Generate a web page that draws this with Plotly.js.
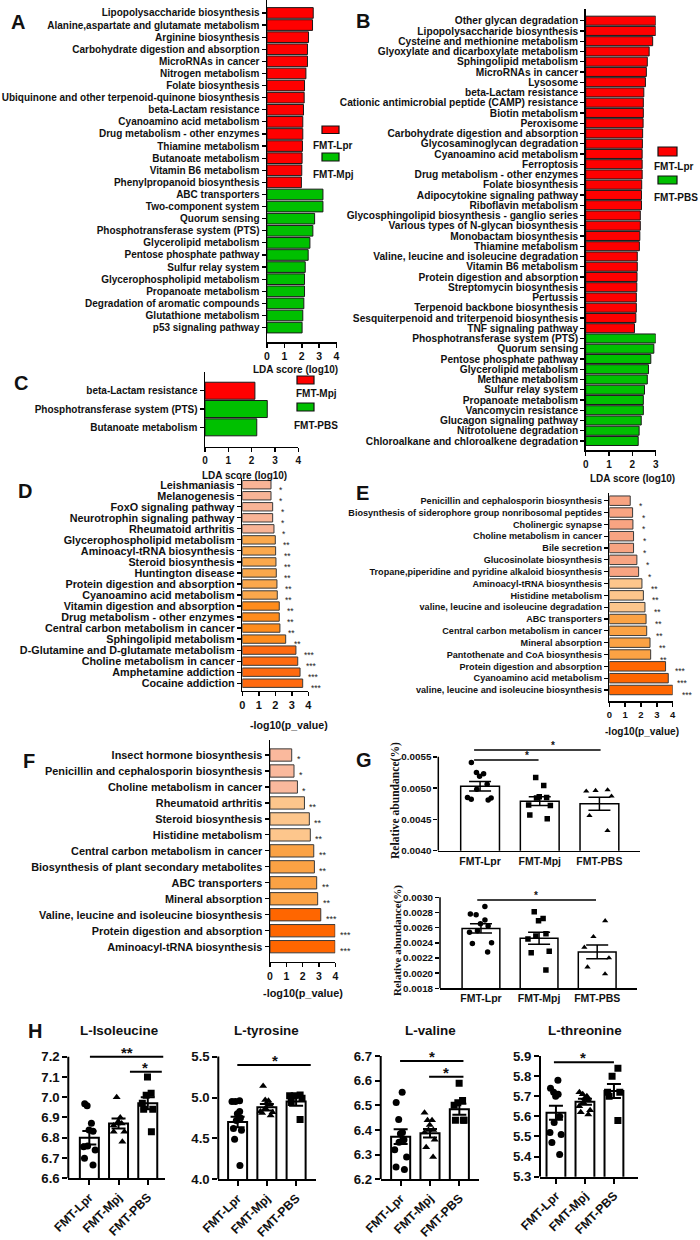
<!DOCTYPE html>
<html>
<head>
<meta charset="utf-8">
<script src="https://cdn.plot.ly/plotly-3.0.1.min.js"></script>
<style>
html,body{margin:0;padding:0;background:#ffffff;}
#chart{width:700px;height:1240px;}
</style>
</head>
<body>
<div id="chart"></div>
<script>
// ===================== DATA =====================
// Panel A : LDA score (log10)
const catA_Lpr = ['Lipopolysaccharide biosynthesis','Alanine,aspartate and glutamate metabolism','Arginine biosynthesis','Carbohydrate digestion and absorption','MicroRNAs in cancer','Nitrogen metabolism','Folate biosynthesis','Ubiquinone and other terpenoid-quinone biosynthesis','beta-Lactam resistance','Cyanoamino acid metabolism','Drug metabolism - other enzymes','Thiamine metabolism','Butanoate metabolism','Vitamin B6 metabolism','Phenylpropanoid biosynthesis'];
const valA_Lpr = [2.66,2.62,2.39,2.33,2.33,2.24,2.16,2.14,2.10,2.06,2.06,2.04,2.02,2.00,1.98];
const catA_Mpj = ['ABC transporters','Two-component system','Quorum sensing','Phosphotransferase system (PTS)','Glycerolipid metabolism','Pentose phosphate pathway','Sulfur relay system','Glycerophospholipid metabolism','Propanoate metabolism','Degradation of aromatic compounds','Glutathione metabolism','p53 signaling pathway'];
const valA_Mpj = [3.22,3.22,2.74,2.64,2.47,2.37,2.20,2.16,2.16,2.12,2.06,2.02];

// Panel B : LDA score (log10)
const catB_Lpr = ['Other glycan degradation','Lipopolysaccharide biosynthesis','Cysteine and methionine metabolism','Glyoxylate and dicarboxylate metabolism','Sphingolipid metabolism','MicroRNAs in cancer','Lysosome','beta-Lactam resistance','Cationic antimicrobial peptide (CAMP) resistance','Biotin metabolism','Peroxisome','Carbohydrate digestion and absorption','Glycosaminoglycan degradation','Cyanoamino acid metabolism','Ferroptosis','Drug metabolism - other enzymes','Folate biosynthesis','Adipocytokine signaling pathway','Riboflavin metabolism','Glycosphingolipid biosynthesis - ganglio series','Various types of N-glycan biosynthesis','Monobactam biosynthesis','Thiamine metabolism','Valine, leucine and isoleucine degradation','Vitamin B6 metabolism','Protein digestion and absorption','Streptomycin biosynthesis','Pertussis','Terpenoid backbone biosynthesis','Sesquiterpenoid and triterpenoid biosynthesis','TNF signaling pathway'];
const valB_Lpr = [3.00,3.00,2.87,2.72,2.64,2.60,2.56,2.49,2.47,2.47,2.46,2.44,2.43,2.42,2.42,2.42,2.40,2.39,2.39,2.34,2.34,2.32,2.30,2.21,2.21,2.20,2.19,2.17,2.17,2.15,2.09];
const catB_PBS = ['Phosphotransferase system (PTS)','Quorum sensing','Pentose phosphate pathway','Glycerolipid metabolism','Methane metabolism','Sulfur relay system','Propanoate metabolism','Vancomycin resistance','Glucagon signaling pathway','Nitrotoluene degradation','Chloroalkane and chloroalkene degradation'];
const valB_PBS = [3.00,2.92,2.79,2.69,2.64,2.52,2.47,2.47,2.38,2.29,2.25];

// Panel C : LDA score (log10)
const catC_Mpj = ['beta-Lactam resistance'];
const valC_Mpj = [2.14];
const catC_PBS = ['Phosphotransferase system (PTS)','Butanoate metabolism'];
const valC_PBS = [2.67,2.22];

// Panel D : -log10(p_value)
const catD = ['Leishmaniasis','Melanogenesis','FoxO signaling pathway','Neurotrophin signaling pathway','Rheumatoid arthritis','Glycerophospholipid metabolism','Aminoacyl-tRNA biosynthesis','Steroid biosynthesis','Huntington disease','Protein digestion and absorption','Cyanoamino acid metabolism','Vitamin digestion and absorption','Drug metabolism - other enzymes','Central carbon metabolism in cancer','Sphingolipid metabolism','D-Glutamine and D-glutamate metabolism','Choline metabolism in cancer','Amphetamine addiction','Cocaine addiction'];
const valD = [1.74,1.74,1.84,1.84,1.92,2.00,2.02,2.04,2.06,2.10,2.12,2.24,2.24,2.28,2.63,3.25,3.36,3.50,3.66];
const starsD = ['*','*','*','*','*','**','**','**','**','**','**','**','**','**','**','***','***','***','***'];
const tierD = [0,0,0,0,0,1,1,1,1,1,1,2,2,2,2,3,3,3,3];

// Panel E : -log10(p_value)
const catE = ['Penicillin and cephalosporin biosynthesis','Biosynthesis of siderophore group nonribosomal peptides','Cholinergic synapse','Choline metabolism in cancer','Bile secretion','Glucosinolate biosynthesis','Tropane,piperidine and pyridine alkaloid biosynthesis','Aminoacyl-tRNA biosynthesis','Histidine metabolism','valine, leucine and isoleucine degradation','ABC transporters','Central carbon metabolism in cancer','Mineral absorption','Pantothenate and CoA biosynthesis','Protein digestion and absorption','Cyanoamino acid metabolism','valine, leucine and isoleucine biosynthesis'];
const valE = [1.32,1.47,1.49,1.53,1.53,1.74,1.85,2.06,2.15,2.25,2.32,2.36,2.57,2.61,3.55,3.72,4.00];
const starsE = ['*','*','*','*','*','*','*','**','**','**','**','**','**','**','***','***','***'];
const tierE = [0,0,0,0,0,0,0,1,1,1,2,2,2,2,3,3,3];

// Panel F : -log10(p_value)
const catF = ['Insect hormone biosynthesis','Penicillin and cephalosporin biosynthesis','Choline metabolism in cancer','Rheumatoid arthritis','Steroid biosynthesis','Histidine metabolism','Central carbon metabolism in cancer','Biosynthesis of plant secondary metabolites','ABC transporters','Mineral absorption','Valine, leucine and isoleucine biosynthesis','Protein digestion and absorption','Aminoacyl-tRNA biosynthesis'];
const valF = [1.33,1.47,1.68,2.11,2.41,2.47,2.68,2.72,2.86,2.92,3.11,3.99,3.99];
const starsF = ['*','*','*','**','**','**','**','**','**','**','***','***','***'];
const tierF = [0,0,0,1,1,1,2,2,2,2,3,3,3];

const ticksLDA4 = [0,1,2,3,4];
const ticksLDA3 = [0,1,2,3];

// Panel G : relative abundance (%)
const groups = ['FMT-Lpr','FMT-Mpj','FMT-PBS'];
const gTop_mean = [0.00503,0.00479,0.00475];
const gTop_sem  = [0.000075,0.00007,0.000105];
const gTop_Lpr = [0.00541,0.00525,0.00523,0.00519,0.00506,0.00498,0.00484,0.00482,0.00481,0.00485];
const gTop_Mpj = [0.00517,0.00504,0.00486,0.00485,0.00484,0.00473,0.00472,0.00451,0.00457];
const gTop_PBS = [0.00496,0.00497,0.00495,0.00487,0.00456,0.00432];
const gTopTicks = [0.0040,0.0045,0.0050,0.0055];

const gBot_mean = [0.00259,0.00246,0.00228];
const gBot_sem  = [0.00006,0.00008,0.00009];
const gBot_Lpr = [0.00288,0.00278,0.00277,0.00270,0.00265,0.00262,0.00256,0.00240,0.00239,0.00228,0.00254];
const gBot_Mpj = [0.00281,0.00272,0.00269,0.00252,0.00249,0.00245,0.00229,0.00227,0.00204];
const gBot_PBS = [0.00269,0.00248,0.00234,0.00220,0.00208,0.00199];
const gBotTicks = [0.0018,0.0020,0.0022,0.0024,0.0026,0.0028,0.0030];

// Panel H : metabolites
const hIle_mean = [6.80,6.87,6.97];
const hIle_sem  = [0.033,0.025,0.030];
const hIle_Lpr = [6.958,6.968,6.871,6.832,6.838,6.759,6.756,6.740,6.699,6.666];
const hIle_Mpj = [7.00,6.90,6.88,6.87,6.87,6.86,6.83,6.83,6.78];
const hIle_PBS = [7.10,7.02,7.01,6.97,6.94,6.94,6.83];
const hIleTicks = [6.6,6.7,6.8,6.9,7.0,7.1,7.2];

const hTyr_mean = [4.70,4.88,4.95];
const hTyr_sem  = [0.065,0.040,0.050];
const hTyr_Lpr = [4.95,4.95,4.96,4.83,4.80,4.75,4.72,4.62,4.60,4.49,4.17];
const hTyr_Mpj = [5.14,4.97,4.96,4.93,4.91,4.87,4.83,4.82,4.81,4.78];
const hTyr_PBS = [5.02,5.03,5.02,4.99,4.94,4.73];
const hTyrTicks = [4.0,4.5,5.0,5.5];

const hVal_mean = [6.373,6.387,6.484];
const hVal_sem  = [0.030,0.017,0.022];
const hVal_Lpr = [6.553,6.511,6.443,6.390,6.385,6.360,6.350,6.320,6.290,6.240,6.250];
const hVal_Mpj = [6.47,6.44,6.44,6.42,6.40,6.40,6.39,6.36,6.33,6.29];
const hVal_PBS = [6.59,6.52,6.51,6.50,6.44,6.44,6.44];
const hValTicks = [6.2,6.3,6.4,6.5,6.6,6.7];

const hThr_mean = [5.618,5.673,5.726];
const hThr_sem  = [0.035,0.015,0.035];
const hThr_Lpr = [5.78,5.74,5.72,5.71,5.70,5.60,5.57,5.52,5.51,5.47,5.41];
const hThr_Mpj = [5.72,5.71,5.70,5.69,5.68,5.67,5.65,5.63,5.62,5.61];
const hThr_PBS = [5.84,5.80,5.72,5.72,5.70,5.58];
const hThrTicks = [5.3,5.4,5.5,5.6,5.7,5.8,5.9];

// ===================== STYLE / LAYOUT =====================
const W = 700, H = 1240;
const FONT = '"Liberation Sans", Arial, Helvetica, sans-serif';
const SERIF = '"Liberation Serif", "Times New Roman", serif';
const INK = '#111111';
const fx = p => p / W;
const fy = p => 1 - p / H;

const RED = '#FF0000', GREEN = '#00C000';
const palD = ['#F9B496','#FBA84C','#FF8C1C','#FF6A10'];
const palE = ['#F8A482','#FDC68C','#FBA244','#FF6600'];
const palF = ['#FAB99D','#FDC68C','#FBA244','#FF6600'];

const layout = {
  width: W, height: H,
  margin: {l:0, r:0, t:0, b:0},
  paper_bgcolor: '#ffffff', plot_bgcolor: 'rgba(0,0,0,0)',
  showlegend: false, barmode: 'overlay', boxmode: 'overlay',
  font: {family: FONT, color: INK},
  shapes: [], annotations: []
};
const traces = [];

function sfx(id){ return id === 1 ? '' : String(id); }

function hPanel(id, o) {
  const s = sfx(id);
  layout['xaxis' + s] = {
    domain: [fx(o.xd[0]), fx(o.xd[1])], anchor: 'y' + s, range: o.xr,
    tickmode: 'array', tickvals: o.xt,
    showline: true, linecolor: '#000', linewidth: 1.5,
    ticks: 'outside', ticklen: 4, tickwidth: 1.5, tickcolor: '#000',
    showgrid: false, zeroline: false, fixedrange: true,
    tickfont: {family: FONT, size: o.xf, color: INK, weight: 'bold'}
  };
  layout['yaxis' + s] = {
    domain: [fy(o.yd[1]), fy(o.yd[0])], anchor: 'x' + s,
    type: 'category', categoryorder: 'array', categoryarray: o.cats,
    range: o.yr, tickmode: 'array', tickvals: o.cats,
    showline: true, linecolor: '#000', linewidth: 1.5,
    ticks: 'outside', ticklen: 4, tickwidth: 1.2, tickcolor: '#000',
    showgrid: false, zeroline: false, fixedrange: true,
    tickfont: {family: FONT, size: o.yf, color: INK, weight: 'bold'}
  };
}

function hBar(id, cats, vals, colors, width, lineColor) {
  const s = sfx(id);
  traces.push({
    type: 'bar', orientation: 'h', y: cats, x: vals,
    xaxis: 'x' + s, yaxis: 'y' + s, width: width,
    marker: {color: colors, line: {color: lineColor || '#1a1a1a', width: 1}},
    hoverinfo: 'skip'
  });
}

function stars(id, cats, vals, st, size, xshift, yshift) {
  const s = sfx(id);
  cats.forEach((c, i) => {
    layout.annotations.push({
      xref: 'x' + s, yref: 'y' + s, x: vals[i], y: c, text: st[i],
      showarrow: false, xanchor: 'left', yanchor: 'middle',
      xshift: xshift, yshift: yshift,
      font: {family: FONT, size: size, color: '#222'}
    });
  });
}

function text(x, y, t, size, opts) {
  layout.annotations.push(Object.assign({
    xref: 'paper', yref: 'paper', x: fx(x), y: fy(y), text: t, showarrow: false,
    xanchor: 'center', yanchor: 'middle',
    font: {family: FONT, size: size, color: INK, weight: 'bold'}
  }, opts || {}));
}

function swatch(x0, y0, x1, y1, color) {
  layout.shapes.push({type: 'rect', xref: 'paper', yref: 'paper',
    x0: fx(x0), x1: fx(x1), y0: fy(y1), y1: fy(y0),
    fillcolor: color, line: {color: '#111', width: 1.2}});
}

// ---- A ----
const catA = catA_Lpr.concat(catA_Mpj);
hPanel(1, {xd: [267, 336.5], yd: [0, 342], xr: [0, 4], xt: ticksLDA4, yr: [27.19, -1.07], cats: catA, xf: 10.5, yf: 10});
hBar(1, catA_Lpr, valA_Lpr, RED, 0.88);
hBar(1, catA_Mpj, valA_Mpj, GREEN, 0.88);
text(295, 370, 'LDA score (log10)', 10);
swatch(322, 126, 339, 133.5, RED);  text(333, 145, 'FMT-Lpr', 10);
swatch(322, 153, 339, 161, GREEN);  text(333, 174, 'FMT-Mpj', 10);

// ---- B ----
const catB = catB_Lpr.concat(catB_PBS);
hPanel(2, {xd: [585.7, 655.7], yd: [9, 450], xr: [0, 3], xt: ticksLDA3, yr: [41.88, -1.14], cats: catB, xf: 10, yf: 10.2});
hBar(2, catB_Lpr, valB_Lpr, RED, 0.88);
hBar(2, catB_PBS, valB_PBS, GREEN, 0.88);
text(632, 478, 'LDA score (log10)', 10);
swatch(658, 147, 677, 156, RED);   text(674, 166, 'FMT-Lpr', 10);
swatch(658, 176, 677, 184, GREEN); text(676, 197, 'FMT-PBS', 10);

// ---- C ----
const catC = catC_Mpj.concat(catC_PBS);
hPanel(3, {xd: [205, 298.3], yd: [371.7, 446.7], xr: [0, 4], xt: ticksLDA4, yr: [3.06, -1.04], cats: catC, xf: 10, yf: 10});
hBar(3, catC_Mpj, valC_Mpj, RED, 0.93);
hBar(3, catC_PBS, valC_PBS, GREEN, 0.93);
text(245, 475, 'LDA score (log10)', 10);
swatch(297, 376, 314, 384, RED);   text(316, 393.5, 'FMT-Mpj', 10);
swatch(297, 403, 314, 411, GREEN); text(316, 425, 'FMT-PBS', 10);

// ---- D ----
hPanel(4, {xd: [242.3, 308.3], yd: [478, 690.7], xr: [0, 4], xt: ticksLDA4, yr: [18.68, -0.61], cats: catD, xf: 11, yf: 10.8});
hBar(4, catD, valD, tierD.map(t => palD[t]), 0.76, '#3a3a3a');
stars(4, catD, valD, starsD, 8.5, 6, -5);
text(289, 725, '-log10(p_value)', 10.6);

// ---- E ----
hPanel(5, {xd: [609.3, 672.7], yd: [493, 701], xr: [0, 4], xt: ticksLDA4, yr: [16.93, -0.65], cats: catE, xf: 9.5, yf: 9.1});
hBar(5, catE, valE, tierE.map(t => palE[t]), 0.8, '#3a3a3a');
stars(5, catE, valE, starsE, 8.5, 7, -5);
text(642, 731, '-log10(p_value)', 10.1);

// ---- F ----
hPanel(6, {xd: [270, 335.3], yd: [740, 961.7], xr: [0, 4], xt: ticksLDA4, yr: [12.94, -0.94], cats: catF, xf: 10.5, yf: 10.9});
hBar(6, catF, valF, tierF.map(t => palF[t]), 0.77, '#3a3a3a');
stars(6, catF, valF, starsF, 9, 3, -4);
text(303, 993, '-log10(p_value)', 10.9);

// ---- vertical bar + dot panels (G, H) ----
function vPanel(id, o) {
  const s = sfx(id);
  const xa = 'x' + s, ya = 'y' + s;
  layout['xaxis' + s] = {
    domain: [fx(o.xd[0]), fx(o.xd[1])], anchor: ya,
    type: 'category', categoryorder: 'array', categoryarray: groups, range: o.xr,
    showline: true, linecolor: '#000', linewidth: o.lw,
    ticks: o.xticks, ticklen: 5, tickwidth: o.lw, tickcolor: '#000', tickangle: o.ta,
    showgrid: false, zeroline: false, fixedrange: true,
    tickfont: {family: FONT, size: o.xf, color: INK, weight: 'bold'}
  };
  layout['yaxis' + s] = {
    domain: [fy(o.yd[1]), fy(o.yd[0])], anchor: xa, range: o.yr,
    tickmode: 'array', tickvals: o.yt, tickformat: o.fmt,
    showline: false, ticks: 'outside', ticklen: o.tl, tickwidth: o.lw, tickcolor: '#000',
    showgrid: false, zeroline: false, fixedrange: true,
    tickfont: {family: FONT, size: o.yf, color: INK, weight: 'bold'}
  };
  // y axis line ends at top tick (GraphPad style)
  layout.shapes.push({type: 'line', xref: xa + ' domain', yref: ya, x0: 0, x1: 0,
    y0: o.yr[0], y1: o.yt[o.yt.length - 1], line: {color: '#000', width: o.lw}});
  traces.push({
    type: 'bar', x: groups, y: o.mean, xaxis: xa, yaxis: ya, width: 0.65,
    marker: {color: '#ffffff', line: {color: '#000', width: o.lw}},
    error_y: {type: 'data', array: o.sem, visible: true, color: '#000', thickness: o.lw, width: o.ew},
    hoverinfo: 'skip'
  });
  o.pts.forEach((p, k) => {
    traces.push({
      type: 'box', x: p.map(() => groups[k]), y: p, xaxis: xa, yaxis: ya,
      boxpoints: 'all', jitter: 0.95, pointpos: 0, width: 0.55, whiskerwidth: 0,
      marker: {symbol: o.sym[k], size: o.ms, color: '#000'},
      line: {color: 'rgba(0,0,0,0)', width: 0}, fillcolor: 'rgba(0,0,0,0)',
      hoverinfo: 'skip'
    });
  });
  o.sig.forEach(b => {
    layout.shapes.push({type: 'line', xref: xa, yref: ya, x0: b.x0, x1: b.x1, y0: b.y, y1: b.y,
      line: {color: '#000', width: o.lw}});
    layout.annotations.push({xref: xa, yref: ya, x: b.xs, y: b.y, text: b.t, showarrow: false,
      xanchor: 'center', yanchor: 'bottom', yshift: o.sy,
      font: {family: FONT, size: o.sf, color: INK, weight: 'bold'}});
  });
}

// G top
vPanel(7, {xd: [438.3, 640], yd: [740, 850.7], xr: [-0.70, 2.68], yr: [0.004, 0.005768],
  yt: gTopTicks, fmt: '.4f', lw: 1.5, xticks: '', ta: 0, xf: 10.5, yf: 9.8, tl: 4, ew: 11,
  mean: gTop_mean, sem: gTop_sem, pts: [gTop_Lpr, gTop_Mpj, gTop_PBS],
  sym: ['circle', 'square', 'triangle-up'], ms: 5.5, sf: 10, sy: -3,
  sig: [{x0: -0.1, x1: 2.02, y: 0.005609, xs: 1.22, t: '*'}, {x0: -0.1, x1: 0.98, y: 0.005449, xs: 0.78, t: '*'}]});
text(395, 801, 'Relative abundance(%)', 11.6, {textangle: -90, font: {family: SERIF, size: 11.6, color: INK, weight: 'bold'}});

// G bottom
vPanel(8, {xd: [440, 636.7], yd: [885, 988.3], xr: [-0.705, 2.68], yr: [0.0018, 0.003162],
  yt: gBotTicks, fmt: '.4f', lw: 1.5, xticks: '', ta: 0, xf: 10.5, yf: 9.8, tl: 4, ew: 11,
  mean: gBot_mean, sem: gBot_sem, pts: [gBot_Lpr, gBot_Mpj, gBot_PBS],
  sym: ['circle', 'square', 'triangle-up'], ms: 5.5, sf: 10, sy: -3,
  sig: [{x0: -0.064, x1: 1.98, y: 0.002964, xs: 0.95, t: '*'}]});
text(397, 941, 'Relative abundance(%)', 11, {textangle: -90, font: {family: SERIF, size: 11, color: INK, weight: 'bold'}});

// H panels
const hSym = ['circle', 'triangle-up', 'square'];
const hXF = 12.3;
vPanel(9, {xd: [68.3, 165], yd: [1040, 1178.3], xr: [-0.72, 2.59], yr: [6.6, 7.282],
  yt: hIleTicks, fmt: '.1f', lw: 2, xticks: 'outside', ta: -45, xf: hXF, yf: 13.2, tl: 5, ew: 7,
  mean: hIle_mean, sem: hIle_sem, pts: [hIle_Lpr, hIle_Mpj, hIle_PBS], sym: hSym, ms: 7, sf: 15, sy: -6,
  sig: [{x0: 0.02, x1: 2.53, y: 7.2, xs: 1.28, t: '**'}, {x0: 1.39, x1: 2.48, y: 7.126, xs: 1.9, t: '*'}]});
vPanel(10, {xd: [218.3, 316], yd: [1040, 1179.3], xr: [-0.66, 2.68], yr: [4.0, 5.703],
  yt: hTyrTicks, fmt: '.1f', lw: 2, xticks: 'outside', ta: -45, xf: hXF, yf: 13.2, tl: 5, ew: 7,
  mean: hTyr_mean, sem: hTyr_sem, pts: [hTyr_Lpr, hTyr_Mpj, hTyr_PBS], sym: hSym, ms: 7, sf: 15, sy: -6,
  sig: [{x0: -0.01, x1: 2.5, y: 5.397, xs: 1.28, t: '*'}]});
vPanel(11, {xd: [380.7, 479.3], yd: [1040, 1179.3], xr: [-0.68, 2.68], yr: [6.2, 6.765],
  yt: hValTicks, fmt: '.1f', lw: 2, xticks: 'outside', ta: -45, xf: hXF, yf: 13.2, tl: 5, ew: 7,
  mean: hVal_mean, sem: hVal_sem, pts: [hVal_Lpr, hVal_Mpj, hVal_PBS], sym: hSym, ms: 7, sf: 15, sy: -6,
  sig: [{x0: -0.02, x1: 2.14, y: 6.68, xs: 1.06, t: '*'}, {x0: 0.97, x1: 2.14, y: 6.616, xs: 1.55, t: '*'}]});
vPanel(12, {xd: [540, 638.3], yd: [1040, 1176.7], xr: [-0.55, 2.84], yr: [5.3, 5.98],
  yt: hThrTicks, fmt: '.1f', lw: 2, xticks: 'outside', ta: -45, xf: hXF, yf: 13.2, tl: 5, ew: 7,
  mean: hThr_mean, sem: hThr_sem, pts: [hThr_Lpr, hThr_Mpj, hThr_PBS], sym: hSym, ms: 7, sf: 15, sy: -6,
  sig: [{x0: -0.07, x1: 2.0, y: 5.869, xs: 0.94, t: '*'}]});

text(118.5, 1030, 'L-Isoleucine', 13.4);
text(266, 1030, 'L-tyrosine', 13.4);
text(430, 1030, 'L-valine', 13.4);
text(584.5, 1030, 'L-threonine', 13.4);

// panel letters
[['A', 17.5, 22], ['B', 363, 21.5], ['C', 21, 382.5], ['D', 25, 491], ['E', 362, 492.5],
 ['F', 29, 761], ['G', 364, 760], ['H', 35, 1031]].forEach(l => text(l[1], l[2], l[0], 20));

Plotly.newPlot('chart', traces, layout, {staticPlot: true, displayModeBar: false});
</script>
</body>
</html>
